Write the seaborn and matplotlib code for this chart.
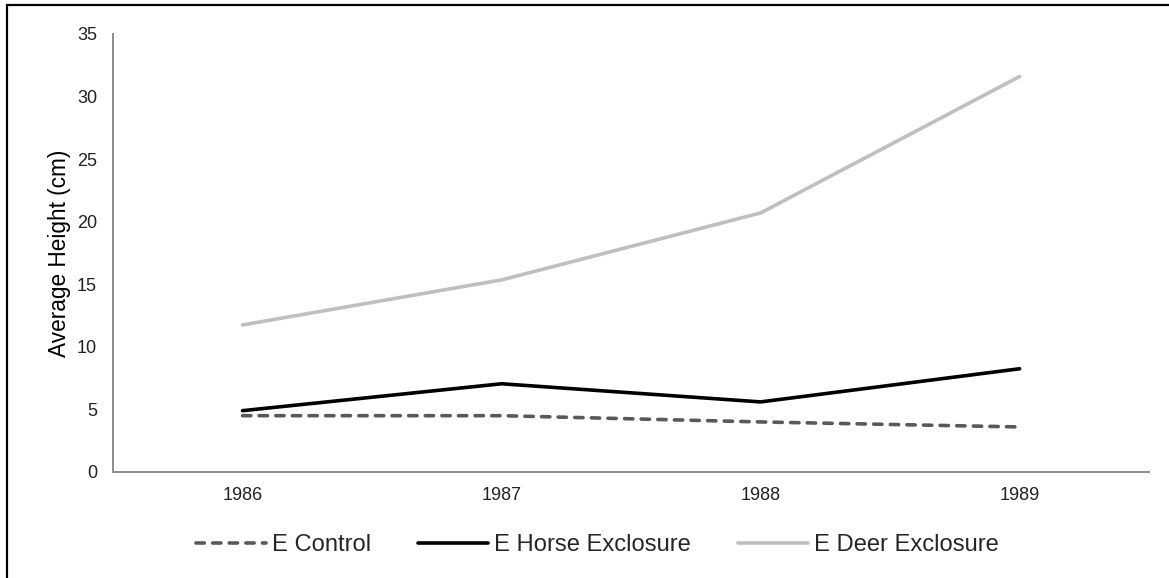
import matplotlib
matplotlib.use("Agg")
import matplotlib.pyplot as plt
import seaborn as sns
from matplotlib.patches import Rectangle

# data
years = ["1986", "1987", "1988", "1989"]
control = [4.5, 4.5, 4.0, 3.6]
horse = [4.9, 7.05, 5.6, 8.25]
deer = [11.75, 15.35, 20.7, 31.6]

sns.set_style("white")
plt.rcParams["font.family"] = ["Liberation Sans", "DejaVu Sans"]

fig = plt.figure(figsize=(11.69, 5.78), dpi=100)
ax = fig.add_axes([0.0967, 0.1834, 0.8863, 0.7578])

sns.lineplot(x=years, y=control, ax=ax, color="#595959", linewidth=2.6,
             label="E Control")
sns.lineplot(x=years, y=horse, ax=ax, color="black", linewidth=2.6,
             label="E Horse Exclosure")
sns.lineplot(x=years, y=deer, ax=ax, color="#BFBFBF", linewidth=2.6,
             label="E Deer Exclosure")

ctrl_line = ax.lines[0]
ctrl_line.set_dashes((2.3, 2.3))
ctrl_line.set_dash_capstyle("round")

ax.set_xlim(-0.5, 3.5)
ax.set_ylim(0, 35)
ax.set_yticks(range(0, 36, 5))
ax.set_xlabel("")
ax.set_ylabel("Average Height (cm)", fontsize=16.3, color="black", labelpad=4.5)
ax.tick_params(axis="y", length=0, pad=11.5, labelsize=13, labelcolor="#222222")
ax.tick_params(axis="x", length=0, pad=11, labelsize=13, labelcolor="#222222")

sns.despine(ax=ax)
for side in ["left", "bottom"]:
    ax.spines[side].set_color("#8C8C8C")
    ax.spines[side].set_linewidth(1.4)

ax.get_legend().remove()
handles, labels = ax.get_legend_handles_labels()
handles[0].set_dashes((2.3, 2.3))
handles[0].set_dash_capstyle("round")
fig.legend(handles, labels, loc="center", bbox_to_anchor=(0.511, 0.057), ncol=3,
           frameon=False, fontsize=17.1, handlelength=2.95, handletextpad=0.25,
           columnspacing=2.0)

# outer border like the original chart frame
fig.patches.append(Rectangle((7 / 1169, -0.05), 1.2, 1 - 5 / 578 + 0.05,
                             transform=fig.transFigure, fill=False,
                             edgecolor="black", linewidth=1.6))

fig.savefig("out.png", dpi=100)
